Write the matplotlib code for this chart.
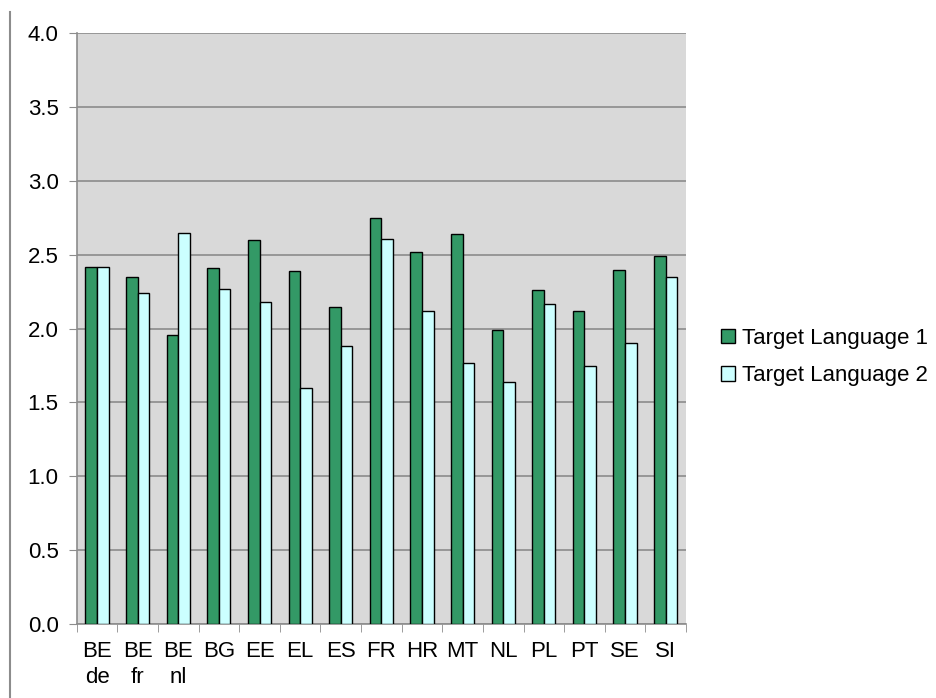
import numpy as np
import matplotlib
matplotlib.use('Agg')
import matplotlib.pyplot as plt
from matplotlib.lines import Line2D

plt.rcParams['font.family'] = ['Liberation Sans', 'DejaVu Sans']

# Data
countries = ['BE\nde', 'BE\nfr', 'BE\nnl', 'BG', 'EE', 'EL', 'ES', 'FR',
             'HR', 'MT', 'NL', 'PL', 'PT', 'SE', 'SI']
target_lang_1 = [2.42, 2.35, 1.96, 2.41, 2.60, 2.39, 2.15, 2.75,
                 2.52, 2.64, 1.99, 2.26, 2.12, 2.40, 2.49]
target_lang_2 = [2.42, 2.24, 2.65, 2.27, 2.18, 1.60, 1.88, 2.61,
                 2.12, 1.77, 1.64, 2.17, 1.75, 1.90, 2.35]
y_ticks = [0.0, 0.5, 1.0, 1.5, 2.0, 2.5, 3.0, 3.5, 4.0]

fs = 16

fig = plt.figure(figsize=(9.37, 6.98), dpi=100)
ax = fig.add_axes([0.0819, 0.106, 0.6502, 0.8463])
ax.set_facecolor('#d9d9d9')

x = np.arange(len(countries))
w = 0.285
ax.bar(x - w / 2, target_lang_1, w, color='#339966', edgecolor='black',
       linewidth=1, label='Target Language 1', zorder=3)
ax.bar(x + w / 2, target_lang_2, w, color='#ccffff', edgecolor='black',
       linewidth=1, label='Target Language 2', zorder=3)

ax.set_xlim(-0.5, len(countries) - 0.5)
ax.set_ylim(0, 4)
ax.set_yticks(y_ticks)
ax.set_yticklabels(['%.1f' % v for v in y_ticks], fontsize=fs)
ax.yaxis.grid(True, color='#8c8c8c', linewidth=1.2, zorder=0)

ax.set_xticks(x)
ax.set_xticklabels(countries, fontsize=fs, linespacing=1.35)
ax.set_xticks(np.arange(-0.5, len(countries)), minor=True)
ax.tick_params(axis='x', which='major', length=0, pad=12)
ax.tick_params(axis='x', which='minor', length=6, color='#8c8c8c', direction='out')
ax.tick_params(axis='y', length=6, color='#8c8c8c', direction='out', pad=7)

for s in ['top', 'right']:
    ax.spines[s].set_visible(False)
for s in ['left', 'bottom']:
    ax.spines[s].set_color('#8c8c8c')
    ax.spines[s].set_linewidth(1.2)

fig.legend(*ax.get_legend_handles_labels(), loc='center left',
           bbox_to_anchor=(0.7695, 0.4885), frameon=False,
           fontsize=fs, handlelength=0.63, handleheight=0.63,
           handletextpad=0.3, labelspacing=0.75, borderpad=0, borderaxespad=0)

# thin vertical line at the left edge of the picture
fig.add_artist(Line2D([0.0102, 0.0102], [0.0, 0.983], color='#8c8c8c', linewidth=1.5))

plt.savefig('out.png', dpi=100)
